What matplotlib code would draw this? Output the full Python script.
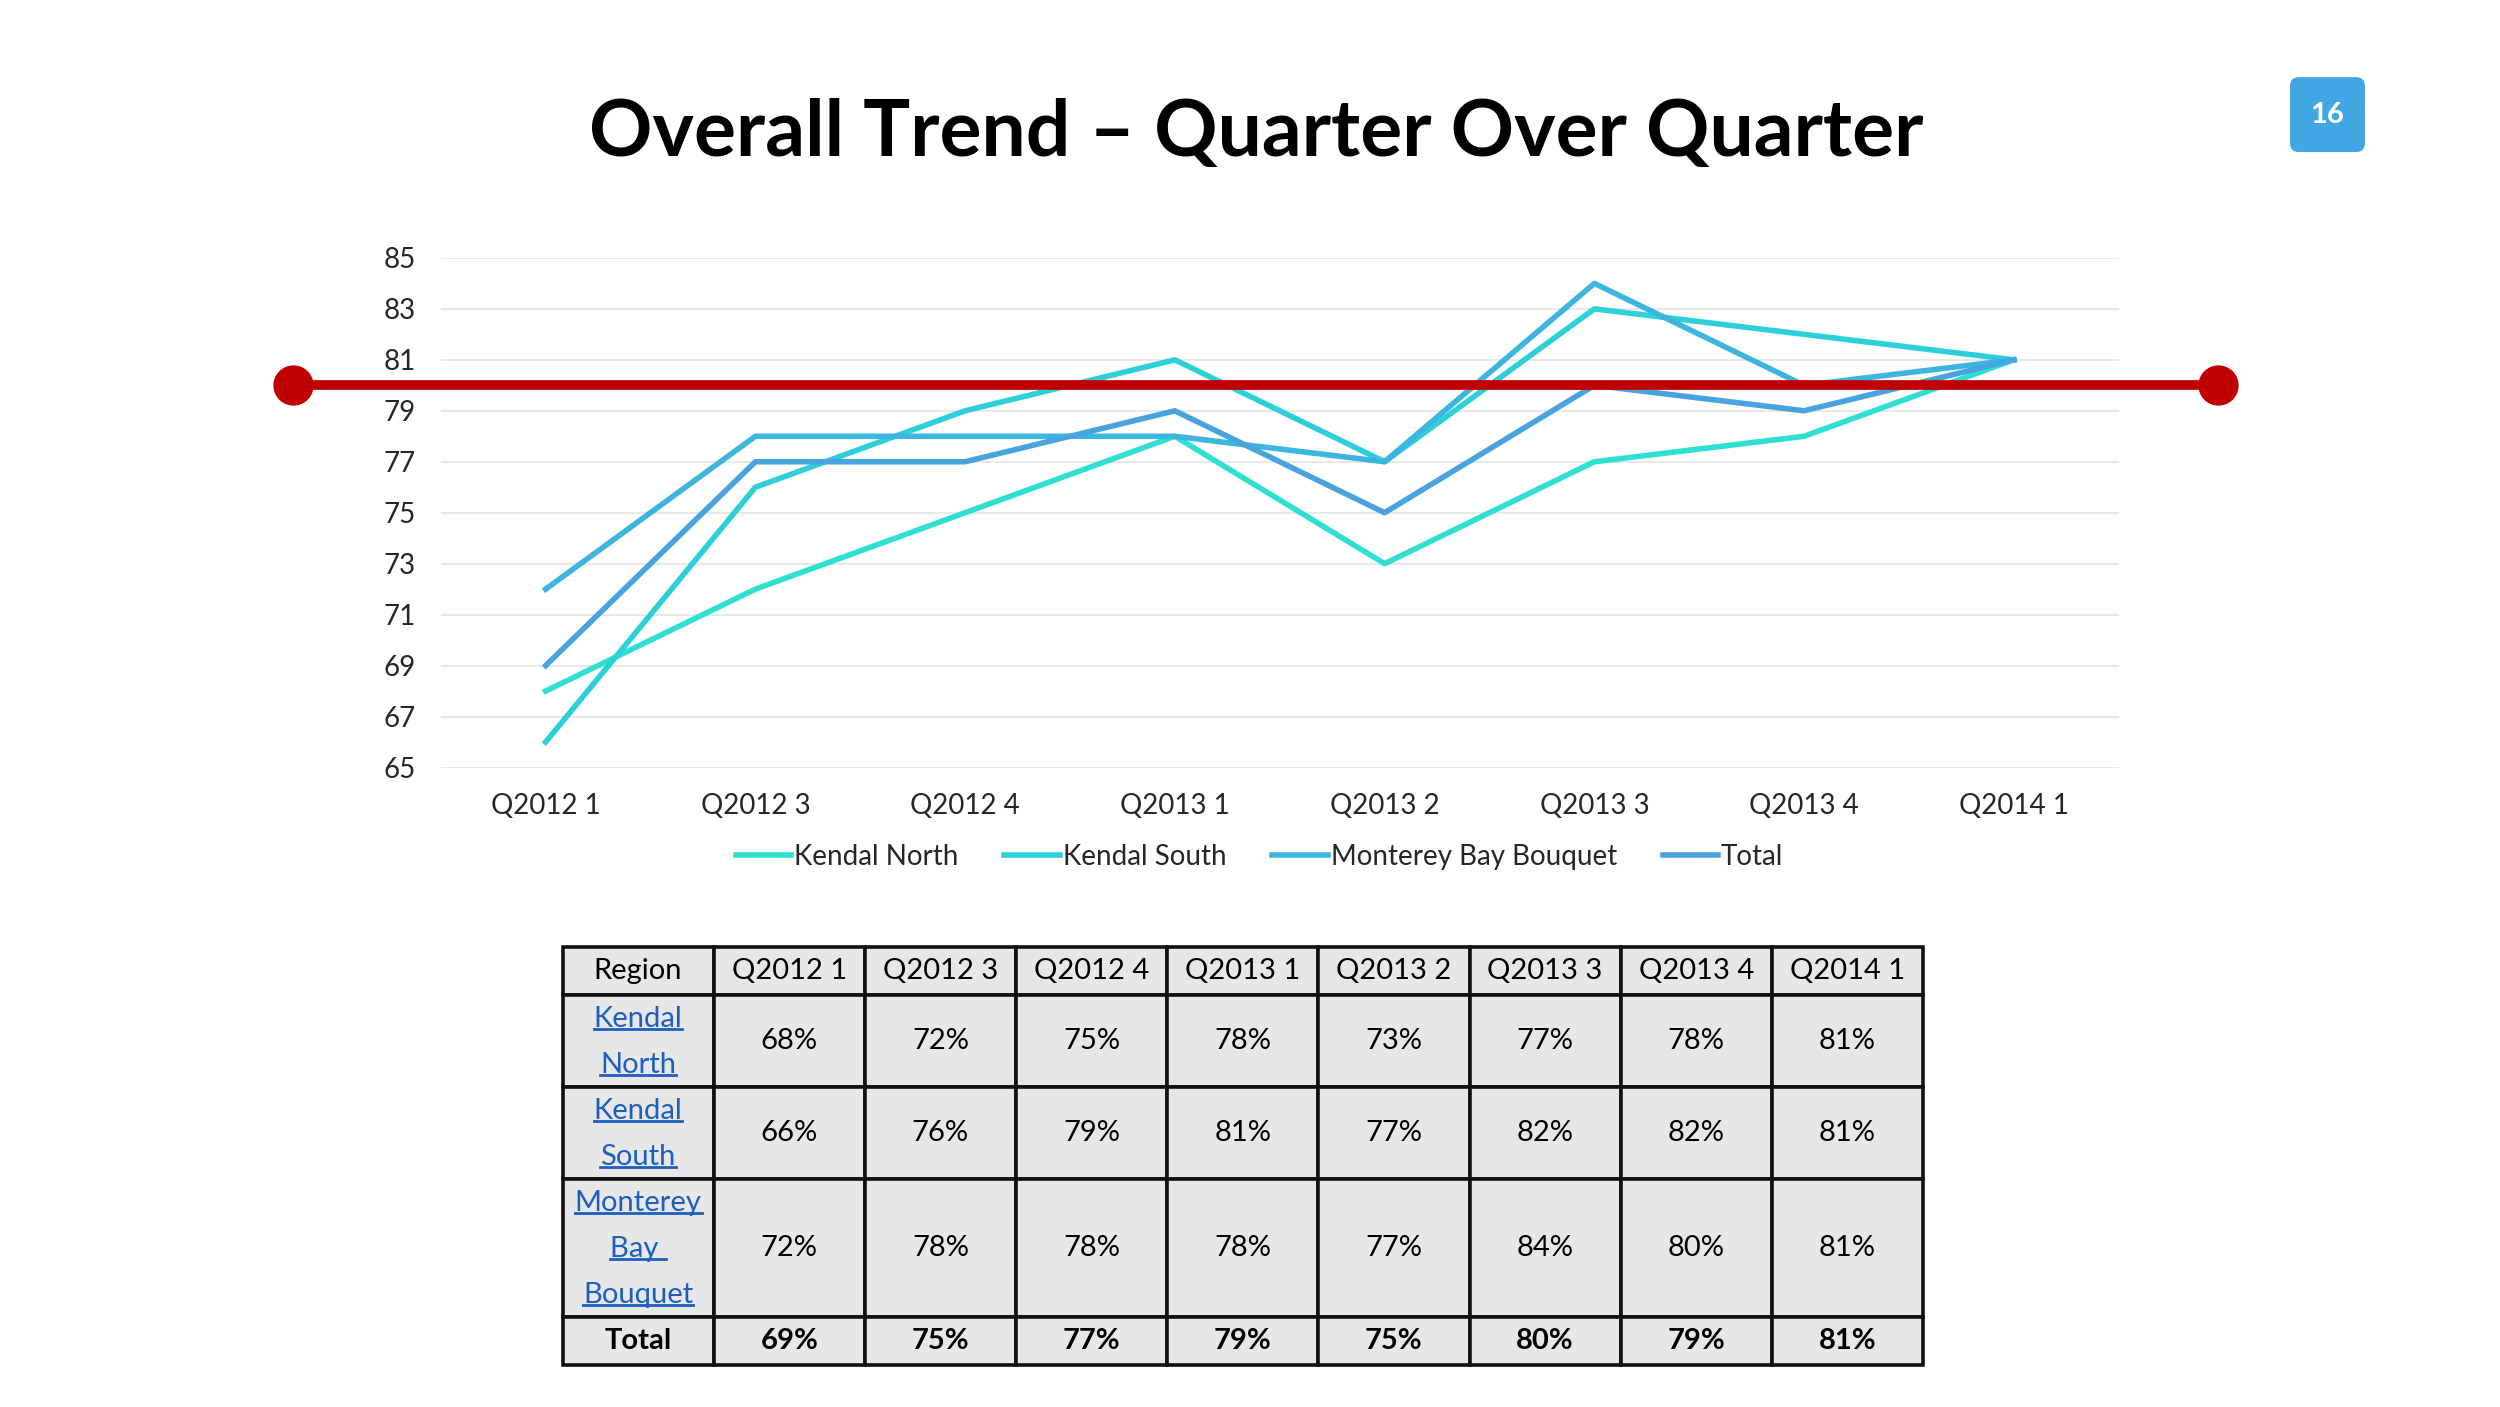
import numpy as np
import matplotlib.pyplot as plt
from matplotlib.patches import Rectangle, FancyBboxPatch
from matplotlib.lines import Line2D

plt.rcParams['font.family'] = ['Lato', 'DejaVu Sans']

quarters = ['Q2012 1', 'Q2012 3', 'Q2012 4', 'Q2013 1', 'Q2013 2', 'Q2013 3', 'Q2013 4', 'Q2014 1']
series_names = ['Kendal North', 'Kendal South', 'Monterey Bay Bouquet', 'Total']

# values as drawn in the line chart
kendal_north = [68, 72, 75, 78, 73, 77, 78, 81]
kendal_south = [66, 76, 79, 81, 77, 83, 82, 81]
monterey_bay = [72, 78, 78, 78, 77, 84, 80, 81]
total = [69, 77, 77, 79, 75, 80, 79, 81]
target = 80

# values as printed in the table below the chart
tbl_kendal_north = ['68%', '72%', '75%', '78%', '73%', '77%', '78%', '81%']
tbl_kendal_south = ['66%', '76%', '79%', '81%', '77%', '82%', '82%', '81%']
tbl_monterey_bay = ['72%', '78%', '78%', '78%', '77%', '84%', '80%', '81%']
tbl_total = ['69%', '75%', '77%', '79%', '75%', '80%', '79%', '81%']
region_labels = [['Kendal', 'North'], ['Kendal', 'South'], ['Monterey', 'Bay ', 'Bouquet']]

colors = ['#2ee0d2', '#2dd0d9', '#3cb6de', '#48a3de']
text_col = '#262626'
link_col = '#1c5fc0'

fig = plt.figure(figsize=(25, 14.07), dpi=100)

# title + page badge
fig.text(0.5025, 0.905, 'Overall Trend \u2013 Quarter Over Quarter', ha='center', va='center',
         fontsize=56.5, fontweight='bold', color='black')
bax = fig.add_axes([0.9152, 0.8905, 0.0316, 0.0561])
bax.set_xlim(0, 79)
bax.set_ylim(0, 79)
bax.axis('off')
bax.add_patch(FancyBboxPatch((2, 2), 75, 75, boxstyle='round,pad=0,rounding_size=9',
                             facecolor='#42a6e2', edgecolor='none'))
bax.text(39.5, 39.5, '16', ha='center', va='center', color='white', fontsize=21, fontweight='bold')

# line chart
ax = fig.add_axes([0.1763, 0.4545, 0.6712, 0.3622])
x = np.arange(len(quarters))
for vals, name, c in zip([kendal_north, kendal_south, monterey_bay, total], series_names, colors):
    ax.plot(x, vals, color=c, lw=4, label=name, zorder=3)

ax.axhline(target, xmin=-0.088, xmax=1.059, color='#c00000', lw=7, marker='o', ms=28,
           clip_on=False, zorder=5)

ax.set_xlim(-0.5, len(quarters) - 0.5)
ax.set_ylim(65, 85)
ax.set_yticks(range(65, 86, 2))
ax.set_xticks(x)
ax.set_xticklabels(quarters)
ax.grid(axis='y', color='#e8e8e8', lw=1.4)
ax.set_axisbelow(True)
for s in ax.spines.values():
    s.set_visible(False)
ax.tick_params(length=0, labelsize=20, colors=text_col, pad=18)

ax.legend(loc='center', bbox_to_anchor=(0.488, -0.175), ncol=4, frameon=False, fontsize=20,
          handlelength=2.0, handletextpad=0.1, columnspacing=1.65, labelcolor=text_col)

# data table
rows = [tbl_kendal_north, tbl_kendal_south, tbl_monterey_bay]
heights = [1.05] + [len(l) for l in region_labels] + [1.05]
ncols = len(quarters) + 1

tax = fig.add_axes([0.225, 0.0299, 0.5442, 0.2971])
tax.set_xlim(0, ncols)
tax.set_ylim(sum(heights), 0)
tax.axis('off')

def cell(c, y0, h):
    tax.add_patch(Rectangle((c, y0), 1, h, facecolor='#e7e7e7', edgecolor='#111111',
                            lw=2.6, clip_on=False))

y0 = 0
# header
for c, lab in enumerate(['Region'] + quarters):
    cell(c, y0, heights[0])
    tax.text(c + 0.5, y0 + heights[0] / 2, lab, ha='center', va='center', fontsize=21, color='black')
y0 += heights[0]

link_texts = []
for r, (lines, vals) in enumerate(zip(region_labels, rows)):
    h = heights[r + 1]
    cell(0, y0, h)
    for i, ln in enumerate(lines):
        t = tax.text(0.5, y0 + 0.52 + i, ln, ha='center', va='center', fontsize=21, color=link_col)
        link_texts.append(t)
    for c, v in enumerate(vals):
        cell(c + 1, y0, h)
        tax.text(c + 1.5, y0 + h / 2, v, ha='center', va='center', fontsize=21, color='black')
    y0 += h

h = heights[-1]
for c, lab in enumerate(['Total'] + tbl_total):
    cell(c, y0, h)
    tax.text(c + 0.5, y0 + h / 2, lab, ha='center', va='center', fontsize=21,
             fontweight='bold', color='black')

# underline the region links
fig.canvas.draw()
renderer = fig.canvas.get_renderer()
inv = fig.transFigure.inverted()
for t in link_texts:
    bb = t.get_window_extent(renderer)
    (fx0, fy0), (fx1, _) = inv.transform([(bb.x0, bb.y0 + 0.12 * bb.height), (bb.x1, bb.y0)])
    fig.add_artist(Line2D([fx0, fx1], [fy0, fy0], color=link_col, lw=2))

fig.savefig('out.png', dpi=100, facecolor='white')
